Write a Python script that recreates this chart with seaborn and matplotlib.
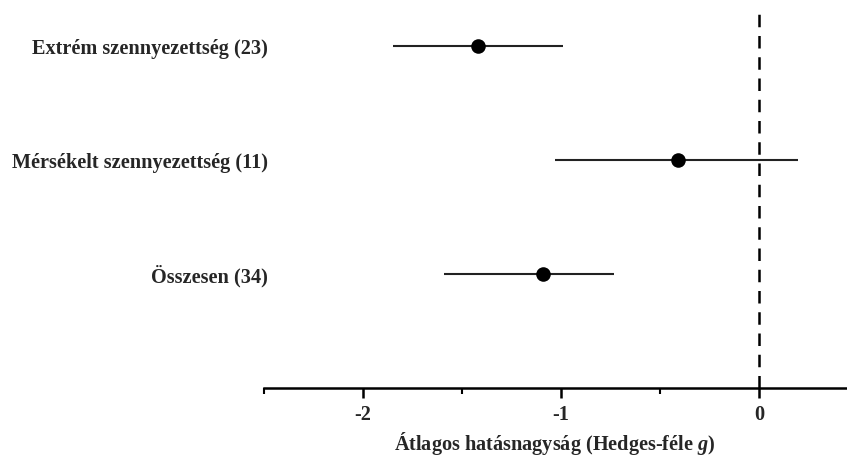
import matplotlib
matplotlib.use("Agg")
import matplotlib.pyplot as plt
from matplotlib.ticker import MultipleLocator
import seaborn as sns
import pandas as pd

categories = ["Extrém szennyezettség (23)", "Mérsékelt szennyezettség (11)", "Összesen (34)"]
effect = [-1.42, -0.41, -1.09]
ci_low = [-1.85, -1.03, -1.59]
ci_high = [-0.99, 0.20, -0.73]

df = pd.DataFrame({"cat": categories, "g": effect, "lo": ci_low, "hi": ci_high})
df["pos"] = range(len(df))

sns.set_style("white")
plt.rcParams["font.family"] = ["Liberation Serif", "DejaVu Serif"]
plt.rcParams["font.weight"] = "bold"
plt.rcParams["mathtext.fontset"] = "custom"
plt.rcParams["mathtext.it"] = "Liberation Serif:italic:bold"
plt.rcParams["mathtext.rm"] = "Liberation Serif:bold"

fig = plt.figure(figsize=(8.47, 4.58), dpi=100)
ax = fig.add_axes([0.3117, 0.153, 0.6871, 0.821])

ax.hlines(df["pos"], df["lo"], df["hi"], color="#222222", linewidth=1.5, zorder=2)
sns.scatterplot(data=df, x="g", y="pos", ax=ax, color="black", s=110,
                edgecolor="black", linewidth=0, zorder=3, legend=False)
ax.axvline(0, color="black", linewidth=1.8, linestyle=(0, (5, 3.5)), zorder=1)

ax.set_xlim(-2.5, 0.44)
ax.set_ylim(3.0, -0.3)

ax.set_yticks(df["pos"])
ax.set_yticklabels(df["cat"], fontsize=14.6, fontweight="bold")
ax.tick_params(axis="y", length=0, pad=-3)

ax.xaxis.set_minor_locator(MultipleLocator(0.5))
ax.set_xticks([-2, -1, 0])
ax.set_xticklabels(["-2", "-1", "0"], fontsize=14.6, fontweight="bold")
ax.tick_params(axis="x", which="major", length=7, width=1.8, color="black", pad=5, bottom=True)
ax.tick_params(axis="x", which="minor", length=4, width=1.5, color="black", bottom=True)

for side in ["top", "right", "left"]:
    ax.spines[side].set_visible(False)
ax.spines["bottom"].set_linewidth(1.8)
ax.spines["bottom"].set_color("black")

ax.set_xlabel("Átlagos hatásnagyság (Hedges-féle $\\mathit{g}$)", fontsize=14.6,
              fontweight="bold", labelpad=4)
ax.set_ylabel("")

fig.savefig("out.png", dpi=100)
